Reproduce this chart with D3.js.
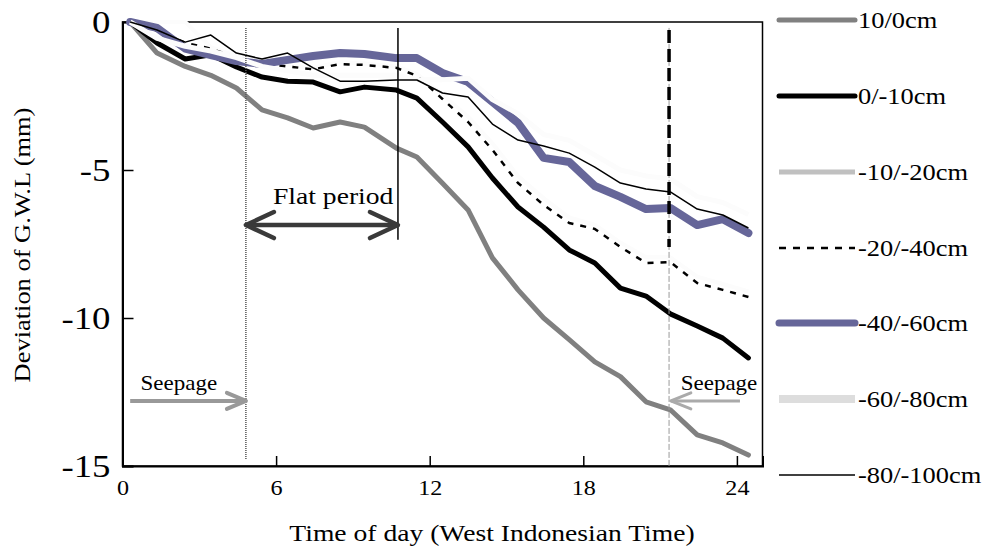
<!DOCTYPE html>
<html><head><meta charset="utf-8">
<script src="https://cdn.jsdelivr.net/npm/d3@7"></script>
<style>body{margin:0;background:#fff}svg{display:block}</style>
</head><body>
<svg id="c" width="989" height="550"></svg>
<script>
// ---- data ----
const hours = [0.3, 1.35, 2.45, 3.45, 4.45, 5.45, 6.45, 7.45, 8.5, 9.45, 10.7, 11.5, 12.5, 13.5, 14.45, 15.45, 16.45, 17.45, 18.45, 19.45, 20.45, 21.4, 22.45, 23.45, 24.45];
const s10_0    = [0, -1.05, -1.5, -1.8, -2.23, -2.97, -3.24, -3.58, -3.38, -3.55, -4.26, -4.56, -5.45, -6.35, -7.97, -9.05, -10.0, -10.73, -11.48, -11.98, -12.83, -13.1, -13.95, -14.22, -14.63];
const s0_10    = [0, -0.71, -1.25, -1.11, -1.52, -1.86, -2.0, -2.03, -2.36, -2.2, -2.3, -2.57, -3.38, -4.22, -5.27, -6.25, -6.93, -7.7, -8.14, -8.99, -9.26, -9.86, -10.27, -10.68, -11.35];
const s10_20   = [0, 0, 0, -0.85, -1.15, -1.35, -1.45, -1.55, -1.35, -1.4, -1.5, -1.75, -2.45, -3.2, -4.1, -5.2, -5.95, -6.6, -6.85, -7.45, -7.95, -7.95, -8.6, -8.85, -9.1];
const s20_40   = [0, -0.3, -0.7, -0.9, -1.2, -1.4, -1.5, -1.6, -1.42, -1.45, -1.55, -1.82, -2.6, -3.38, -4.32, -5.44, -6.18, -6.79, -6.99, -7.6, -8.14, -8.11, -8.82, -9.05, -9.29];
const s40_60   = [0, -0.2, -0.9, -1.12, -1.32, -1.42, -1.28, -1.15, -1.05, -1.08, -1.22, -1.22, -1.72, -2.03, -2.7, -3.41, -4.59, -4.73, -5.54, -5.91, -6.32, -6.28, -6.86, -6.66, -7.13];
const s60_80   = [0, -0.55, -0.82, -0.98, -1.2, -1.5, -1.65, -1.8, -1.8, -1.8, -1.8, -1.95, -1.95, -1.9, -2.62, -3.1, -3.8, -4.0, -4.5, -5.0, -5.2, -5.3, -5.9, -6.1, -6.5];
const s80_100  = [0, -0.27, -0.68, -0.44, -1.05, -1.25, -1.05, -1.55, -2.0, -2.0, -1.96, -1.96, -2.4, -2.53, -3.45, -3.99, -4.19, -4.43, -4.9, -5.44, -5.64, -5.74, -6.32, -6.52, -6.96];
const seriesNames = ["10/0cm", "0/-10cm", "-10/-20cm", "-20/-40cm", "-40/-60cm", "-60/-80cm", "-80/-100cm"];
const xTicks = [0, 6, 12, 18, 24];
const yTicks = [0, -5, -10, -15];
const markers = {seepageStart: 4.82, flatEnd: 10.76, seepageEnd: 21.35};

// ---- styles ----
const FONT = "'Liberation Serif','Times New Roman',serif";
const SX = 1.15;
const styles = [
  {plot:"#808080", leg:"#808080", w:5, lw:5, cap:"round"},
  {plot:"#000000", leg:"#000000", w:5, lw:5, cap:"round"},
  {plot:"#fcfcfc", leg:"#c0c0c0", w:4, lw:5, cap:"butt"},
  {plot:"#000000", leg:"#000000", w:2.5, lw:2.5, cap:"butt", dash:"6,7"},
  {plot:"#666699", leg:"#666699", w:8, lw:7, cap:"round"},
  {plot:"#fcfcfc", leg:"#dddddd", w:5, lw:8, cap:"butt"},
  {plot:"#000000", leg:"#000000", w:1.5, lw:1.5, cap:"butt"}
];
const allSeries = [s10_0, s0_10, s10_20, s20_40, s40_60, s60_80, s80_100];

const svg = d3.select("#c");
const x = d3.scaleLinear().domain([0, 25]).range([122.5, 762.5]);
const y = d3.scaleLinear().domain([0, -15]).range([22, 466]);

function txt(g, px, py, s, size, anchor, rot) {
  return g.append("text")
    .attr("transform", `translate(${px},${py})${rot ? " rotate(" + rot + ")" : ""} scale(${SX},1)`)
    .attr("text-anchor", anchor || "middle")
    .attr("dy", "0.35em")
    .style("font-family", FONT).style("font-size", size + "px").attr("fill", "#000")
    .text(s);
}
function stretchTicks(g) {
  g.selectAll("text").each(function () {
    const t = d3.select(this);
    const xx = +t.attr("x") || 0, yy = +t.attr("y") || 0;
    t.attr("x", null).attr("y", null).attr("transform", `translate(${xx},${yy}) scale(${SX},1)`);
  });
}

// frame
svg.append("rect").attr("x", x(0)).attr("y", y(0)).attr("width", x(25) - x(0)).attr("height", y(-15) - y(0))
  .attr("fill", "none").attr("stroke", "#000").attr("stroke-width", 1.5);

// axes
const gy = svg.append("g").attr("transform", `translate(${x(0)},0)`)
  .call(d3.axisLeft(y).tickValues(yTicks).tickSize(-11).tickPadding(12).tickFormat(d => String(d)));
gy.select(".domain").attr("stroke-width", 2);
gy.selectAll(".tick line").attr("stroke-width", 1.5);
gy.selectAll("text").style("font-family", FONT).style("font-size", "32px").attr("fill", "#000");
stretchTicks(gy);

const gx = svg.append("g").attr("transform", `translate(0,${y(-15)})`)
  .call(d3.axisBottom(x).tickValues(xTicks).tickSize(-10).tickPadding(14).tickFormat(d => String(d)));
gx.select(".domain").attr("stroke-width", 2);
gx.selectAll(".tick line").attr("stroke-width", 1.5);
gx.selectAll("text").style("font-family", FONT).style("font-size", "21px").attr("fill", "#000");
stretchTicks(gx);

// axis titles
txt(svg, 492, 533, "Time of day (West Indonesian Time)", 24, "middle");
txt(svg, 22, 245, "Deviation of G.W.L (mm)", 23, "middle", -90);

// series
const line = d3.line().x((d, i) => x(hours[i])).y(d => y(d));
allSeries.forEach((s, k) => {
  const st = styles[k];
  svg.append("path").datum(s).attr("d", line)
    .attr("fill", "none").attr("stroke", st.plot).attr("stroke-width", st.w)
    .attr("stroke-linejoin", "round").attr("stroke-linecap", st.cap)
    .attr("stroke-dasharray", st.dash || null);
});

// reference lines
svg.append("line").attr("x1", x(markers.seepageStart)).attr("x2", x(markers.seepageStart))
  .attr("y1", y(-0.2)).attr("y2", y(-14.8)).attr("stroke", "#555").attr("stroke-width", 1.5).attr("stroke-dasharray", "1,1");
svg.append("line").attr("x1", x(markers.flatEnd)).attr("x2", x(markers.flatEnd))
  .attr("y1", y(-0.2)).attr("y2", y(-7.36)).attr("stroke", "#000").attr("stroke-width", 1.5);
svg.append("line").attr("x1", x(markers.seepageEnd)).attr("x2", x(markers.seepageEnd))
  .attr("y1", y(-0.2)).attr("y2", y(-15)).attr("stroke", "#999").attr("stroke-width", 1).attr("stroke-dasharray", "6,2");
svg.append("line").attr("x1", x(markers.seepageEnd)).attr("x2", x(markers.seepageEnd))
  .attr("y1", y(-0.27)).attr("y2", y(-7.6)).attr("stroke", "#000").attr("stroke-width", 3.5).attr("stroke-dasharray", "13,6");

// annotations
function arrowHead(px, py, dir, back, half, color, w) {
  svg.append("path").attr("d", `M${px - dir * back},${py - half}L${px},${py}L${px - dir * back},${py + half}`)
    .attr("fill", "none").attr("stroke", color).attr("stroke-width", w).attr("stroke-linecap", "round").attr("stroke-linejoin", "round");
}
const fy = y(-6.86);
svg.append("line").attr("x1", x(markers.seepageStart)).attr("x2", x(markers.flatEnd)).attr("y1", fy).attr("y2", fy)
  .attr("stroke", "#3a3a3a").attr("stroke-width", 4.5);
arrowHead(x(markers.seepageStart), fy, -1, 28, 13, "#3a3a3a", 4.5);
arrowHead(x(markers.flatEnd), fy, 1, 28, 13, "#3a3a3a", 4.5);
txt(svg, x(8.23), y(-5.88), "Flat period", 24, "middle");

const sy = y(-12.8);
svg.append("line").attr("x1", x(0.3)).attr("x2", x(markers.seepageStart)).attr("y1", sy).attr("y2", sy)
  .attr("stroke", "#999").attr("stroke-width", 4);
arrowHead(x(markers.seepageStart), sy, 1, 19, 8, "#999", 4);
txt(svg, x(2.2), y(-12.2), "Seepage", 20, "middle");

svg.append("line").attr("x1", x(24.12)).attr("x2", x(21.42)).attr("y1", sy).attr("y2", sy)
  .attr("stroke", "#aaa").attr("stroke-width", 3);
arrowHead(x(21.42), sy, -1, 20, 8, "#aaa", 3);
txt(svg, 719, y(-12.2), "Seepage", 20, "middle");

// legend
const legY = [20, 96, 172, 248, 323, 399, 475];
const lg = svg.append("g");
seriesNames.forEach((n, k) => {
  const st = styles[k];
  lg.append("line").attr("x1", 779).attr("x2", 855).attr("y1", legY[k]).attr("y2", legY[k])
    .attr("stroke", st.leg).attr("stroke-width", st.lw).attr("stroke-linecap", st.cap)
    .attr("stroke-dasharray", st.dash ? "7,7" : null);
  txt(lg, 858, legY[k], n, 23, "start");
});
</script>
</body></html>
